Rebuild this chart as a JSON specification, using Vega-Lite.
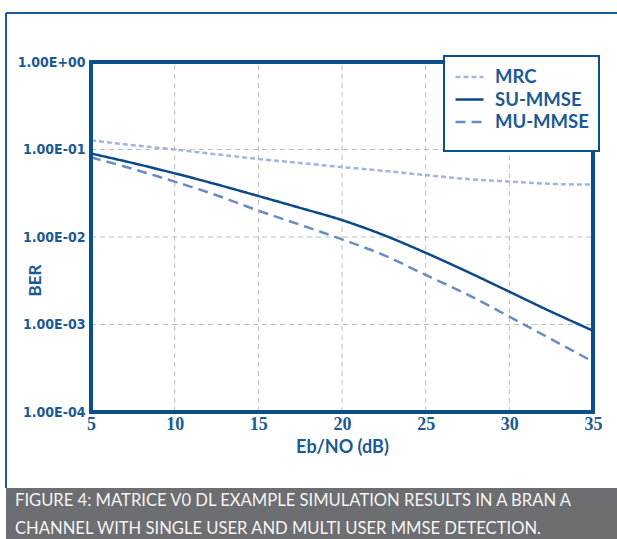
{
  "$schema": "https://vega.github.io/schema/vega-lite/v6.json",
  "autosize": "none",
  "padding": {"left": 6, "top": 13, "right": 0, "bottom": 0},
  "width": 640,
  "height": 526,
  "background": "white",
  "view": {
    "fill": {"gradient": "linear", "x1": 0, "y1": 0, "x2": 0, "y2": 1,
      "stops": [{"offset": 0, "color": "#ffffff"}, {"offset": 0.903, "color": "#ffffff"}, {"offset": 0.903, "color": "#6d6e71"}, {"offset": 1, "color": "#6d6e71"}]},
    "stroke": "#1a5a96",
    "strokeWidth": 2,
    "strokeDash": {"expr": "[width, width + height * 1.097, height * 0.903]"}
  },
  "config": {"legend": {"strokeWidth": 2}},
  "title": {
    "text": ["FIGURE 4: MATRICE V0 DL EXAMPLE SIMULATION RESULTS IN A BRAN A", "CHANNEL WITH SINGLE USER AND MULTI USER MMSE DETECTION."],
    "orient": "bottom",
    "anchor": "start",
    "frame": "group",
    "offset": -46,
    "dx": 9,
    "color": "#f4f4f4",
    "font": "Lato",
    "fontSize": 16.6,
    "fontWeight": "normal",
    "lineHeight": 28
  },
  "datasets": {
    "xgrid": [{"g": 10}, {"g": 15}, {"g": 20}, {"g": 25}, {"g": 30}],
    "ygrid": [{"g": 0.001}, {"g": 0.01}, {"g": 0.1}]
  },
  "data": {
    "values": [
      {"snr": 5, "ber": 0.127, "series": "MRC"},
      {"snr": 7.5, "ber": 0.112, "series": "MRC"},
      {"snr": 10, "ber": 0.100, "series": "MRC"},
      {"snr": 12.5, "ber": 0.088, "series": "MRC"},
      {"snr": 15, "ber": 0.078, "series": "MRC"},
      {"snr": 17.5, "ber": 0.070, "series": "MRC"},
      {"snr": 20, "ber": 0.063, "series": "MRC"},
      {"snr": 22.5, "ber": 0.057, "series": "MRC"},
      {"snr": 25, "ber": 0.051, "series": "MRC"},
      {"snr": 27.5, "ber": 0.046, "series": "MRC"},
      {"snr": 30, "ber": 0.043, "series": "MRC"},
      {"snr": 32.5, "ber": 0.0405, "series": "MRC"},
      {"snr": 35, "ber": 0.0397, "series": "MRC"},
      {"snr": 5, "ber": 0.090, "series": "SU-MMSE"},
      {"snr": 7.5, "ber": 0.070, "series": "SU-MMSE"},
      {"snr": 10, "ber": 0.0534, "series": "SU-MMSE"},
      {"snr": 12.5, "ber": 0.040, "series": "SU-MMSE"},
      {"snr": 15, "ber": 0.0294, "series": "SU-MMSE"},
      {"snr": 17.5, "ber": 0.0215, "series": "SU-MMSE"},
      {"snr": 20, "ber": 0.0156, "series": "SU-MMSE"},
      {"snr": 22.5, "ber": 0.0105, "series": "SU-MMSE"},
      {"snr": 25, "ber": 0.0066, "series": "SU-MMSE"},
      {"snr": 27.5, "ber": 0.0040, "series": "SU-MMSE"},
      {"snr": 30, "ber": 0.00237, "series": "SU-MMSE"},
      {"snr": 32.5, "ber": 0.0014, "series": "SU-MMSE"},
      {"snr": 35, "ber": 0.00085, "series": "SU-MMSE"},
      {"snr": 5, "ber": 0.0814, "series": "MU-MMSE"},
      {"snr": 7.5, "ber": 0.060, "series": "MU-MMSE"},
      {"snr": 10, "ber": 0.0429, "series": "MU-MMSE"},
      {"snr": 12.5, "ber": 0.030, "series": "MU-MMSE"},
      {"snr": 15, "ber": 0.020, "series": "MU-MMSE"},
      {"snr": 17.5, "ber": 0.0138, "series": "MU-MMSE"},
      {"snr": 20, "ber": 0.0094, "series": "MU-MMSE"},
      {"snr": 22.5, "ber": 0.0062, "series": "MU-MMSE"},
      {"snr": 25, "ber": 0.00368, "series": "MU-MMSE"},
      {"snr": 27.5, "ber": 0.0022, "series": "MU-MMSE"},
      {"snr": 30, "ber": 0.00123, "series": "MU-MMSE"},
      {"snr": 32.5, "ber": 0.00068, "series": "MU-MMSE"},
      {"snr": 35, "ber": 0.000376, "series": "MU-MMSE"}
    ]
  },
  "layer": [
    {
      "data": {"name": "xgrid"},
      "mark": {"type": "rule", "color": "#bdbdbd", "strokeWidth": 1, "strokeDash": [5, 4]},
      "encoding": {
        "x": {"field": "g", "type": "quantitative"},
        "y": {"datum": 0.0001, "type": "quantitative"},
        "y2": {"datum": 1}
      }
    },
    {
      "data": {"name": "ygrid"},
      "mark": {"type": "rule", "color": "#bdbdbd", "strokeWidth": 1, "strokeDash": [5, 4]},
      "encoding": {
        "y": {"field": "g", "type": "quantitative"},
        "x": {"datum": 5, "type": "quantitative"},
        "x2": {"datum": 35}
      }
    },
    {
      "mark": {"type": "line", "interpolate": "monotone", "strokeWidth": 2.5},
      "encoding": {
        "x": {
          "field": "snr", "type": "quantitative",
          "scale": {"domain": [5, 35], "range": [85, 587], "nice": false, "zero": false},
          "axis": {
            "orient": "bottom", "offset": -127, "values": [5, 10, 15, 20, 25, 30, 35],
            "domain": false, "ticks": false, "grid": false,
            "labelFont": "Liberation Serif", "labelFontSize": 18, "labelFontWeight": "bold", "labelColor": "#1b5a94",
            "labelPadding": 3, "labelFlush": false,
            "title": "Eb/NO (dB)", "titleFont": "Lato", "titleFontSize": 18, "titleFontWeight": "bold", "titleColor": "#1b5a94",
            "titlePadding": 5
          }
        },
        "y": {
          "field": "ber", "type": "quantitative",
          "scale": {"type": "log", "domain": [0.0001, 1], "range": [399, 49], "nice": false},
          "axis": {
            "orient": "left", "offset": -85, "values": [0.0001, 0.001, 0.01, 0.1, 1],
            "labelExpr": "datum.value >= 1 ? '1.00E+00' : '1.00E-0' + round(-log(datum.value) / LN10)",
            "domain": false, "ticks": false, "grid": false,
            "labelFont": "Liberation Sans Narrow, DejaVu Sans Condensed, sans-serif", "labelFontSize": 14, "labelFontWeight": "bold", "labelColor": "#1b5a94",
            "labelPadding": 6, "labelFlush": false,
            "title": "BER", "titleFont": "Lato", "titleFontSize": 17, "titleFontWeight": "bold", "titleColor": "#1b5a94",
            "titleX": -56, "titleY": 267, "titleAngle": -90, "titleAlign": "center", "titleBaseline": "middle"
          }
        },
        "color": {
          "field": "series", "type": "nominal",
          "scale": {"domain": ["MRC", "SU-MMSE", "MU-MMSE"], "range": ["#a4b4db", "#0b4a86", "#6b8cc0"]},
          "legend": {
            "title": " ", "titleOrient": "bottom", "titleFontSize": 2, "titlePadding": 6,
            "orient": "none", "legendX": 438, "legendY": 43,
            "strokeColor": "#0b4f8c", "fillColor": "#ffffff", "padding": 10,
            "symbolType": "stroke", "symbolSize": 784, "symbolStrokeWidth": 2.5, "clipHeight": 22,
            "labelFont": "Lato", "labelFontSize": 18.5, "labelFontWeight": "bold", "labelColor": "#1b5a94",
            "labelOffset": 10, "rowPadding": 0.5
          }
        },
        "strokeDash": {
          "field": "series", "type": "nominal",
          "scale": {"domain": ["MRC", "SU-MMSE", "MU-MMSE"], "range": [[5, 3], [1, 0], [10, 6]]},
          "legend": {
            "title": " ", "titleOrient": "bottom", "titleFontSize": 2, "titlePadding": 6,
            "orient": "none", "legendX": 438, "legendY": 43,
            "strokeColor": "#0b4f8c", "fillColor": "#ffffff", "padding": 10,
            "symbolType": "stroke", "symbolSize": 784, "symbolStrokeWidth": 2.5, "clipHeight": 22,
            "labelFont": "Lato", "labelFontSize": 18.5, "labelFontWeight": "bold", "labelColor": "#1b5a94",
            "labelOffset": 10, "rowPadding": 0.5
          }
        }
      }
    },
    {
      "mark": {"type": "rect", "filled": false, "stroke": "#0b4f8c", "strokeWidth": 2.5},
      "encoding": {
        "x": {"datum": 5, "type": "quantitative"},
        "x2": {"datum": 35},
        "y": {"datum": 0.0001, "type": "quantitative"},
        "y2": {"datum": 1}
      }
    }
  ]
}
